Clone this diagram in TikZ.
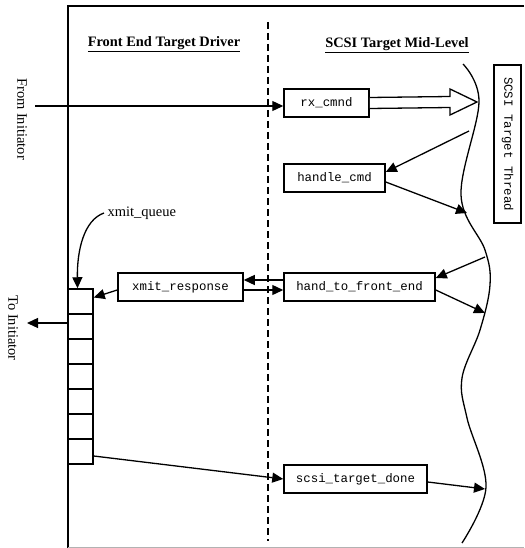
\documentclass[tikz,border=0pt]{standalone}
\usepackage{fontspec}
\setmainfont{Liberation Serif}
\setmonofont{Liberation Mono}
\usetikzlibrary{arrows.meta,calc,positioning}
\tikzset{
  func/.style={draw, line width=1.5pt, fill=white, font=\ttfamily\fontsize{12.4}{14}\selectfont,
    minimum height=28pt, inner sep=0pt},
  cell/.style={draw, line width=1.5pt, fill=white, minimum size=25pt, inner sep=0pt},
  heading/.style={font=\bfseries\fontsize{14.4}{16}\selectfont},
  side/.style={font=\fontsize{14.5}{16}\selectfont, rotate=-90},
  call/.style={-{Triangle[length=11pt,width=10pt]}, line width=1.3pt},
  frame/.style={line width=1.6pt},
  border/.style={dashed, dash pattern=on 7pt off 4pt, line width=1.3pt},
  wave/.style={line width=1.3pt}
}
\begin{document}
\begin{tikzpicture}[x=1pt,y=-1pt]
  \useasboundingbox (0,0) rectangle (524,548);

  % outline and divider
  \draw[frame] (524,6) -- (68,6) -- (68,548);
  \draw[gray!60, line width=1pt] (68,547) -- (524,547);
  \draw[border] (268,22) -- (268,541);

  \node[heading] (fedtitle) at (164,44) {\underline{Front End Target Driver}};
  \node[heading] (midtitle) at (397,45) {\underline{SCSI Target Mid-Level}};

  \node[side] (fromini) at (22,119) {From Initiator};
  \node[side] (toini) at (13,328) {To Initiator};

  % mid-level functions
  \node[func, minimum width=85pt] (rxcmnd) at (326.5,103) {rx\_cmnd};
  \node[func, minimum width=101pt] (handlecmd) at (334.5,178) {handle\_cmd};
  \node[func, minimum width=151pt] (handtofe) at (359.5,287) {hand\_to\_front\_end};
  \node[func, minimum width=143pt] (targetdone) at (355.5,479) {scsi\_target\_done};
  \node[func, minimum width=158pt, minimum height=27pt, rotate=-90] (thread) at (507.5,144) {SCSI Target Thread};

  % front end
  \node[func, minimum width=125pt] (xmitresp) at (180.5,287) {xmit\_response};
  \foreach \i in {1,...,7} {
    \node[cell] (q\i) at (80.5,{276.5+25*\i}) {};
  }
  \node[anchor=west, font=\fontsize{14.5}{16}\selectfont] (qlabel) at (104,213) {xmit\_queue};

  % thread boundary
  \draw[wave] plot[smooth, tension=0.6] coordinates {(463,64) (479,102) (461,195) (485,250) (490,285) (480,330) (462,378) (467,418) (486,487) (462,543)};
  \coordinate (w1) at (477,102);
  \coordinate (w2) at (469,131);
  \coordinate (w3) at (467,213);
  \coordinate (w4) at (485,257);
  \coordinate (w5) at (485,313);
  \coordinate (w6) at (485,489);
  \coordinate (inlet) at (35,106);
  \coordinate (outlet) at (27,323);

  % hollow arrow into the thread
  \draw[line width=1.3pt, fill=white] ([yshift=5.5pt]rxcmnd.east) -- ($(w1)+(-27,-5.5)$) -- ($(w1)+(-27,-13)$) -- (w1)
    -- ($(w1)+(-27,13)$) -- ($(w1)+(-27,5.5)$) -- ([yshift=-5.5pt]rxcmnd.east);

  \draw[call] (inlet) -- (inlet -| rxcmnd.west);
  \draw[call] (w2) -- ([yshift=6pt]handlecmd.east);
  \draw[call] ([yshift=-4pt]handlecmd.east) -- (w3);
  \draw[call] (w4) -- ([yshift=9pt]handtofe.east);
  \draw[call] ([yshift=-3pt]handtofe.east) -- (w5);
  \draw[call] ([yshift=7pt]handtofe.west) -- ([yshift=7pt]xmitresp.east);
  \draw[call] ([yshift=-3pt]xmitresp.east) -- ([yshift=-3pt]handtofe.west);
  \draw[call] ([yshift=-3pt]xmitresp.west) -- ([yshift=4pt]q1.east);
  \draw[call] (qlabel.west) .. controls (84,220) and (77,250) .. ([xshift=-3pt]q1.north);
  \draw[call] (q2.west |- outlet) -- (outlet);
  \draw[call] ([yshift=-4.5pt]q7.east) -- (targetdone.west);
  \draw[call] ([yshift=-3pt]targetdone.east) -- (w6);
\end{tikzpicture}
\end{document}
